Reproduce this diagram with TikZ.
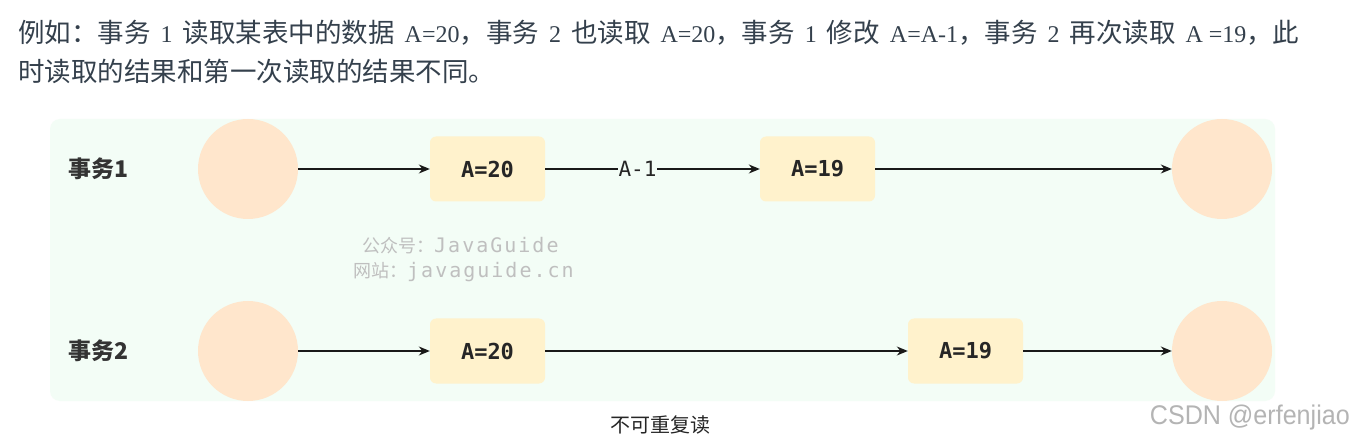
\documentclass[tikz,border=0pt]{standalone}
\usepackage{fontspec}
\usetikzlibrary{arrows.meta}
\newfontfamily\cjk{Noto Sans CJK SC}
\newfontfamily\lat{Liberation Serif}
\newfontfamily\mono{DejaVu Sans Mono}
\newfontfamily\monowide[LetterSpace=10]{DejaVu Sans Mono}
\newfontfamily\csdn{Liberation Sans}
\definecolor{hdr}{HTML}{34404C}
\definecolor{panel}{HTML}{F3FDF6}
\definecolor{peach}{HTML}{FFE6CC}
\definecolor{cream}{HTML}{FFF2CC}
\definecolor{wm}{HTML}{BFBFBF}
\definecolor{csdngray}{HTML}{B4B4B4}
\newcommand\lt[1]{\hspace{10pt}{\lat\fontsize{24}{28}\selectfont #1}\hspace{10pt}}
\newcommand\ltc[1]{\hspace{10pt}{\lat\fontsize{24}{28}\selectfont #1}}
\begin{document}
\begin{tikzpicture}[x=1pt,y=-1pt,
  state/.style={circle, fill=peach, minimum size=100pt, inner sep=0pt},
  val/.style={rounded corners=6pt, fill=cream, minimum width=115pt, minimum height=65pt, inner sep=0pt,
              font=\mono\bfseries\fontsize{22}{24}\selectfont, text=black!85},
  flow/.style={-{Stealth[length=11pt,width=9pt]}, line width=1.4pt, black!90},
  rowlabel/.style={anchor=west, inner sep=0pt, font=\cjk\bfseries\fontsize{23}{26}\selectfont, text=black!80},
  headtext/.style={anchor=base west, inner sep=0pt, font=\cjk\fontsize{26.5}{30}\selectfont, text=hdr},
  wmtext/.style={anchor=west, inner sep=0pt, font=\fontsize{18}{22}\selectfont, text=wm}]
\useasboundingbox (0,0) rectangle (1354,443);
\fill[white] (0,0) rectangle (1354,443);
% header
\node[headtext] (h1) at (18,43) {例如：事务\lt{1}读取某表中的数据\ltc{A=20}，事务\lt{2}也读取\ltc{A=20}，事务\lt{1}修改\ltc{A=A-1}，事务\lt{2}再次读取\ltc{A =19}，此};
\node[headtext] (h2) at (18,82) {时读取的结果和第一次读取的结果不同。};
% panel
\fill[panel, rounded corners=10pt] (50,119) rectangle (1275,401);
% row 1
\node[rowlabel] (t1) at (68,169) {事务1};
\node[state] (s1) at (248,169) {};
\node[val] (a1) at (487.5,169) {A=20};
\node[val] (b1) at (817.5,169) {A=19};
\node[state] (e1) at (1222,169) {};
\draw[flow] (s1) -- (a1);
\draw[flow] (a1) -- node[pos=0.43, fill=panel, inner sep=1pt, font=\mono\fontsize{21}{24}\selectfont, text=black!85] (m1) {A-1} (b1);
\draw[flow] (b1) -- (e1);
% row 2
\node[rowlabel] (t2) at (68,351) {事务2};
\node[state] (s2) at (248,351) {};
\node[val] (a2) at (487.5,351) {A=20};
\node[val] (b2) at (965.5,351) {A=19};
\node[state] (e2) at (1222,351) {};
\draw[flow] (s2) -- (a2);
\draw[flow] (a2) -- (b2);
\draw[flow] (b2) -- (e2);
% watermark
\node[wmtext] (w1) at (362,246) {\cjk 公众号：{\monowide\fontsize{20}{22}\selectfont JavaGuide}};
\node[wmtext] (w2) at (353,272) {\cjk 网站：{\monowide\fontsize{20}{22}\selectfont javaguide.cn}};
% caption
\node[inner sep=0pt, font=\cjk\fontsize{20}{24}\selectfont, text=black!85] (cap) at (660,425) {不可重复读};
\node[anchor=east, inner sep=0pt, font=\csdn\fontsize{27}{30}\selectfont, text=csdngray] (cs) at (1350,418) {\scalebox{0.93}[1]{CSDN @erfenjiao}};
\end{tikzpicture}
\end{document}
